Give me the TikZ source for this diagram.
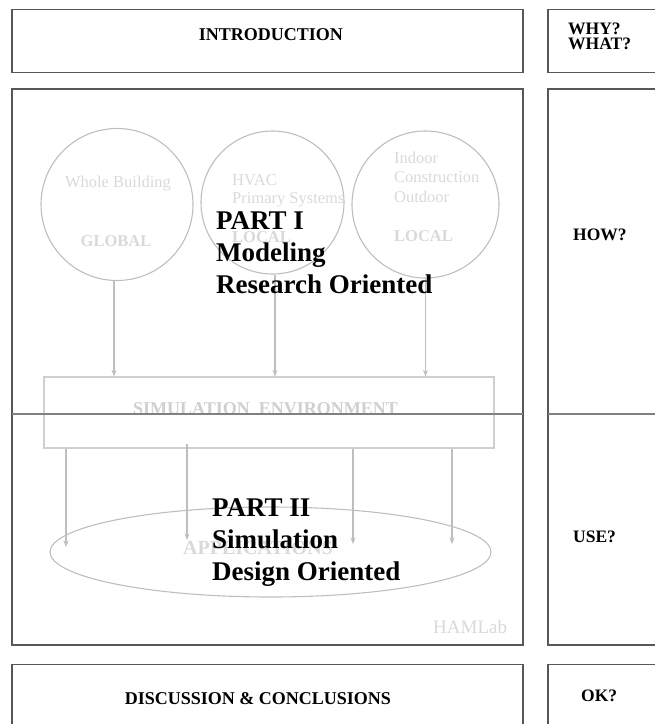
\documentclass[tikz,border=0pt]{standalone}
\usepackage{fontspec}
\setmainfont{Liberation Serif}
\usetikzlibrary{arrows.meta,shapes.geometric}
\definecolor{boxline}{HTML}{575757}
\definecolor{divline}{HTML}{808080}
\definecolor{faint}{HTML}{BEBEBE}
\definecolor{faintbox}{HTML}{CFCFCF}
\definecolor{fainttext}{HTML}{D9D9D9}
\begin{document}
\begin{tikzpicture}[x=1pt,y=-1pt,
  frame/.style={draw=boxline, line width=1.3pt},
  divider/.style={draw=divline, line width=1.5pt},
  faintshape/.style={draw=faint, line width=1.1pt, inner sep=0pt},
  flow/.style={draw=faint, line width=1.1pt, -{Stealth[length=6.5pt,width=5pt]}},
  lbl/.style={font=\fontsize{17.5}{15}\selectfont\bfseries, anchor=base west, inner sep=0pt},
  bigtitle/.style={font=\fontsize{27}{31.5}\selectfont\bfseries, anchor=base west, inner sep=0pt},
  circtext/.style={text=fainttext, font=\fontsize{16.5}{19.5}\selectfont, inner sep=0pt, anchor=base west},
  circbold/.style={circtext, font=\fontsize{16.5}{19.5}\selectfont\bfseries},
]
\useasboundingbox (0,0) rectangle (655,724);
\clip (0,0) rectangle (655,724);

% outer frames
\draw[frame] (12,9.5) rectangle (523,72.5);
\draw[frame] (548,9.5) rectangle (665,72.5);
\draw[frame] (12,89) rectangle (523,645);
\draw[frame] (548,89) rectangle (665,645);
\draw[frame] (12,664.5) rectangle (523,740);
\draw[frame] (548,664.5) rectangle (665,740);

% side labels
\node[lbl, font=\fontsize{18}{15}\selectfont\bfseries, anchor=base] (intro) at (271,40.7) {INTRODUCTION};
\node[lbl] (why) at (568,34) {WHY?};
\node[lbl] (what) at (568,49) {WHAT?};
\node[lbl] (how) at (573,240) {HOW?};
\node[lbl] (use) at (573,542) {USE?};
\node[lbl] (ok) at (581,701) {OK?};
\node[lbl, font=\fontsize{18}{15}\selectfont\bfseries, anchor=base] (disc) at (258,704) {DISCUSSION \& CONCLUSIONS};

% circles
\node[faintshape, circle, minimum size=152pt] (c1) at (117,204.5) {};
\node[faintshape, circle, minimum size=143pt] (c2) at (272.5,202.5) {};
\node[faintshape, circle, minimum size=147pt] (c3) at (425.5,204.5) {};

\node[circtext, anchor=base] (c1a) at (118,187) {Whole Building};
\node[circbold, anchor=base] (c1b) at (116,246) {GLOBAL};
\node[circtext] (c2a) at (232,185) {HVAC};
\node[circtext] (c2b) at (232,203) {Primary Systems};
\node[circbold] (c2c) at (232,242) {LOCAL};
\node[circtext] (c3a) at (394,163) {Indoor};
\node[circtext] (c3b) at (394,182.5) {Construction};
\node[circtext] (c3c) at (394,202) {Outdoor};
\node[circbold] (c3d) at (394,241) {LOCAL};

% simulation environment
\node[faintshape, draw=faintbox, rectangle, minimum width=450pt, minimum height=71pt] (sim) at (269,412.5) {};
\node[circbold, font=\fontsize{18}{20}\selectfont\bfseries, text=faintbox] (simtext) at (133,414.3) {SIMULATION\ \ ENVIRONMENT};

% divider lines
\draw[divider] (12,414) -- (523,414);
\draw[divider] (548,414) -- (665,414);

% arrows into simulation box
\draw[flow] ([xshift=-3pt]c1.south) -- ([xshift=-3pt]c1.south |- sim.north);
\draw[flow] ([xshift=2.5pt]c2.south) -- ([xshift=2.5pt]c2.south |- sim.north);
\draw[flow] (c3.south) -- (c3.south |- sim.north);

% applications ellipse
\node[faintshape, ellipse, minimum width=441pt, minimum height=90pt] (app) at (270.5,552) {};
\node[circbold, font=\fontsize{20}{22}\selectfont\bfseries] (apptext) at (183,554) {APPLICATIONS};

\coordinate (t1) at (66,547);
\coordinate (t2) at (187,540);
\coordinate (t3) at (353,544);
\coordinate (t4) at (452,544);
\draw[flow] (t1 |- sim.south) -- (t1);
\draw[flow] ([yshift=5pt]t2 |- sim.south) -- (t2);
\draw[flow] (t3 |- sim.south) -- (t3);
\draw[flow] (t4 |- sim.south) -- (t4);

% HAMLab
\node[circtext, font=\fontsize{19}{21}\selectfont] (hamlab) at (433,633) {HAMLab};

% big titles
\node[bigtitle] (p1a) at (216,229) {PART I};
\node[bigtitle] (p1b) at (216,261) {Modeling};
\node[bigtitle] (p1c) at (216,293) {Research Oriented};
\node[bigtitle] (p2a) at (212,516) {PART II};
\node[bigtitle] (p2b) at (212,548) {Simulation};
\node[bigtitle] (p2c) at (212,580) {Design Oriented};
\end{tikzpicture}
\end{document}
